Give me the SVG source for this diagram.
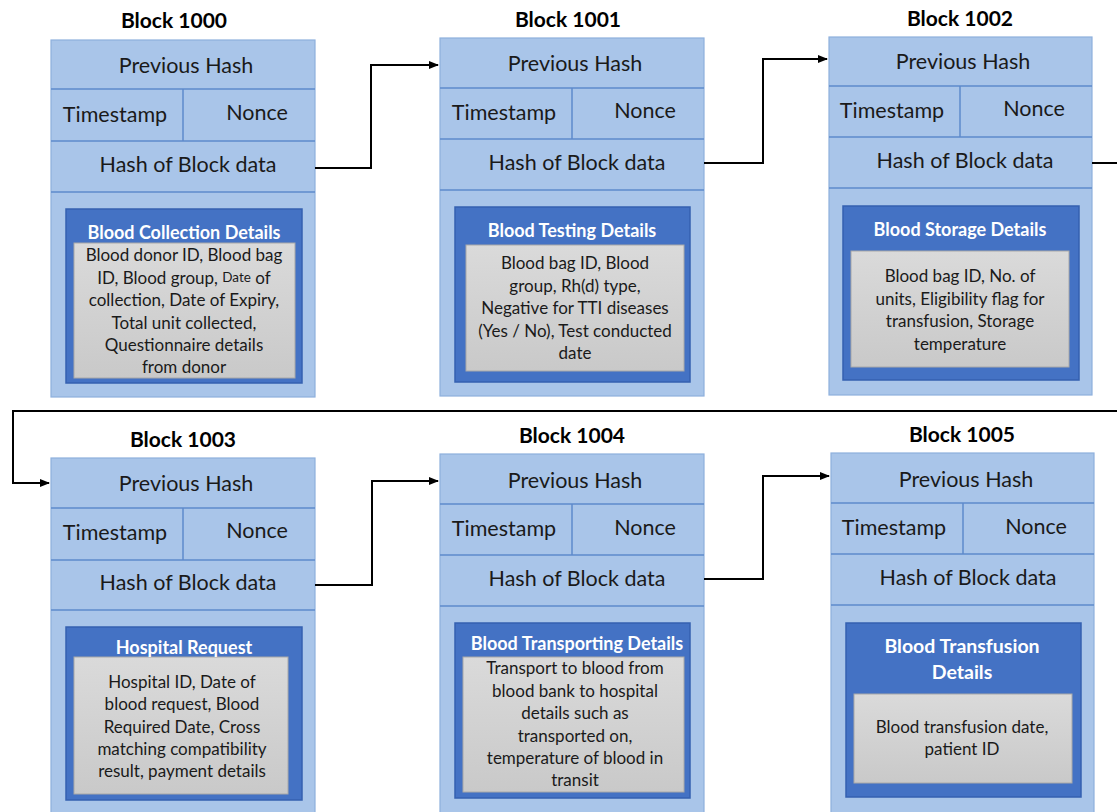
<svg xmlns="http://www.w3.org/2000/svg" width="1117" height="812" viewBox="0 0 1117 812">
<defs>
<linearGradient id="gg" x1="0" y1="0" x2="0" y2="1"><stop offset="0" stop-color="#DADADA"/><stop offset="1" stop-color="#C9C9C9"/></linearGradient>
<marker id="ah" markerWidth="10" markerHeight="8" refX="9" refY="4" orient="auto" markerUnits="userSpaceOnUse"><path d="M0,0 L10,4 L0,8 z" fill="#000"/></marker>
</defs>
<style>
.outer{fill:#A9C5E9;stroke:#8EB0DD;stroke-width:1.2}
.ln{stroke:#5E8ACB;stroke-width:1.5;fill:none}
.dark{fill:#4472C4;stroke:#3560B0;stroke-width:1.5}
.grey{fill:url(#gg);stroke:#A8A8A8;stroke-width:1}
.f{font-family:Lato,"Open Sans","Liberation Sans",sans-serif;text-anchor:middle;dominant-baseline:central}
.t{font-size:21px;font-weight:bold;fill:#000}
.h{font-size:21.5px;fill:#1a1a1a}
.w{font-size:18px;font-weight:bold;fill:#fff}
.b{font-size:17px;fill:#1a1a1a}
.s{font-size:13.5px}
.c{fill:none;stroke:#000;stroke-width:2}
</style>
<rect width="1117" height="812" fill="#fff"/>

<g id="block1000">
<text class="f t" x="174" y="19">Block 1000</text>
<rect class="outer" x="51" y="40" width="264" height="357"/>
<path class="ln" d="M51,89H315M51,141H315M51,192H315M183,89V141"/>
<text class="f h" x="186" y="65">Previous Hash</text>
<text class="f h" x="115" y="114">Timestamp</text>
<text class="f h" x="257" y="112">Nonce</text>
<text class="f h" x="188" y="164">Hash of Block data</text>
<rect class="dark" x="66" y="209" width="236" height="174"/>
<rect class="grey" x="74" y="243" width="221" height="135"/>
<text class="f w" x="184" y="232">Blood Collection  Details</text>
<text class="f b" x="184" y="254">Blood donor ID, Blood bag</text>
<text class="f b" x="184" y="277">ID, Blood group, <tspan class="s">Date</tspan> of</text>
<text class="f b" x="184" y="299">collection, Date of Expiry,</text>
<text class="f b" x="184" y="322">Total unit collected,</text>
<text class="f b" x="184" y="344">Questionnaire details</text>
<text class="f b" x="184" y="366">from donor</text>
</g>

<g id="block1001">
<text class="f t" x="568" y="18">Block 1001</text>
<rect class="outer" x="440" y="38" width="264" height="358"/>
<path class="ln" d="M440,88H704M440,139H704M440,190H704M572,88V139"/>
<text class="f h" x="575" y="63">Previous Hash</text>
<text class="f h" x="504" y="112">Timestamp</text>
<text class="f h" x="645" y="110">Nonce</text>
<text class="f h" x="577" y="162">Hash of Block data</text>
<rect class="dark" x="455" y="207" width="235" height="175"/>
<rect class="grey" x="466" y="245" width="218" height="126"/>
<text class="f w" x="572" y="230">Blood Testing  Details</text>
<text class="f b" x="575" y="262">Blood bag ID, Blood</text>
<text class="f b" x="575" y="285">group, Rh(d) type,</text>
<text class="f b" x="575" y="307">Negative for TTI diseases</text>
<text class="f b" x="575" y="330">(Yes / No), Test conducted</text>
<text class="f b" x="575" y="352">date</text>
</g>

<g id="block1002">
<text class="f t" x="960" y="17">Block 1002</text>
<rect class="outer" x="829" y="37" width="263" height="358"/>
<path class="ln" d="M829,86H1092M829,137H1092M829,188H1092M960,86V137"/>
<text class="f h" x="963" y="61">Previous Hash</text>
<text class="f h" x="892" y="110">Timestamp</text>
<text class="f h" x="1034" y="108">Nonce</text>
<text class="f h" x="965" y="160">Hash of Block data</text>
<rect class="dark" x="843" y="206" width="236" height="174"/>
<rect class="grey" x="851" y="251" width="218" height="116"/>
<text class="f w" x="960" y="229">Blood Storage Details</text>
<text class="f b" x="960" y="275">Blood bag ID, No. of</text>
<text class="f b" x="960" y="298">units, Eligibility flag for</text>
<text class="f b" x="960" y="320">transfusion, Storage</text>
<text class="f b" x="960" y="343">temperature</text>
</g>

<g id="block1003">
<text class="f t" x="183" y="438">Block 1003</text>
<rect class="outer" x="51" y="458" width="264" height="360"/>
<path class="ln" d="M51,508H315M51,560H315M51,610H315M183,508V560"/>
<text class="f h" x="186" y="483">Previous Hash</text>
<text class="f h" x="115" y="532">Timestamp</text>
<text class="f h" x="257" y="530">Nonce</text>
<text class="f h" x="188" y="582">Hash of Block data</text>
<rect class="dark" x="66" y="627" width="236" height="173"/>
<rect class="grey" x="74" y="657" width="214" height="137"/>
<text class="f w" x="184" y="647">Hospital Request</text>
<text class="f b" x="182" y="681">Hospital ID, Date of</text>
<text class="f b" x="182" y="703">blood request, Blood</text>
<text class="f b" x="182" y="726">Required Date, Cross</text>
<text class="f b" x="182" y="748">matching compatibility</text>
<text class="f b" x="182" y="770">result, payment details</text>
</g>

<g id="block1004">
<text class="f t" x="572" y="434">Block 1004</text>
<rect class="outer" x="440" y="454" width="264" height="364"/>
<path class="ln" d="M440,504H704M440,555H704M440,606H704M572,504V555"/>
<text class="f h" x="575" y="480">Previous Hash</text>
<text class="f h" x="504" y="528">Timestamp</text>
<text class="f h" x="645" y="527">Nonce</text>
<text class="f h" x="577" y="578">Hash of Block data</text>
<rect class="dark" x="455" y="623" width="235" height="175"/>
<rect class="grey" x="463" y="657" width="221" height="135"/>
<text class="f w" x="577" y="643">Blood Transporting Details</text>
<text class="f b" x="575" y="667">Transport to blood from</text>
<text class="f b" x="575" y="690">blood bank to hospital</text>
<text class="f b" x="575" y="712">details such as</text>
<text class="f b" x="575" y="735">transported on,</text>
<text class="f b" x="575" y="757">temperature of blood in</text>
<text class="f b" x="575" y="779">transit</text>
</g>

<g id="block1005">
<text class="f t" x="962" y="433">Block 1005</text>
<rect class="outer" x="831" y="453" width="263" height="365"/>
<path class="ln" d="M831,503H1094M831,554H1094M831,605H1094M963,503V554"/>
<text class="f h" x="966" y="479">Previous Hash</text>
<text class="f h" x="894" y="527">Timestamp</text>
<text class="f h" x="1036" y="526">Nonce</text>
<text class="f h" x="968" y="577">Hash of Block data</text>
<rect class="dark" x="846" y="623" width="235" height="174"/>
<rect class="grey" x="854" y="694" width="218" height="89"/>
<text class="f w" x="962" y="645" style="font-size:19.5px">Blood Transfusion</text>
<text class="f w" x="962" y="671" style="font-size:19.5px">Details</text>
<text class="f b" x="962" y="726">Blood transfusion date,</text>
<text class="f b" x="962" y="748">patient ID</text>
</g>

<g id="connectors">
<path class="c" d="M315,168H371V65H438" marker-end="url(#ah)"/>
<path class="c" d="M704,163H763V59H827" marker-end="url(#ah)"/>
<path class="c" d="M1092,163H1117"/>
<path class="c" d="M1117,411H13V483H49" marker-end="url(#ah)"/>
<path class="c" d="M315,585H372V481H438" marker-end="url(#ah)"/>
<path class="c" d="M704,579H763V476H829" marker-end="url(#ah)"/>
</g>
</svg>
